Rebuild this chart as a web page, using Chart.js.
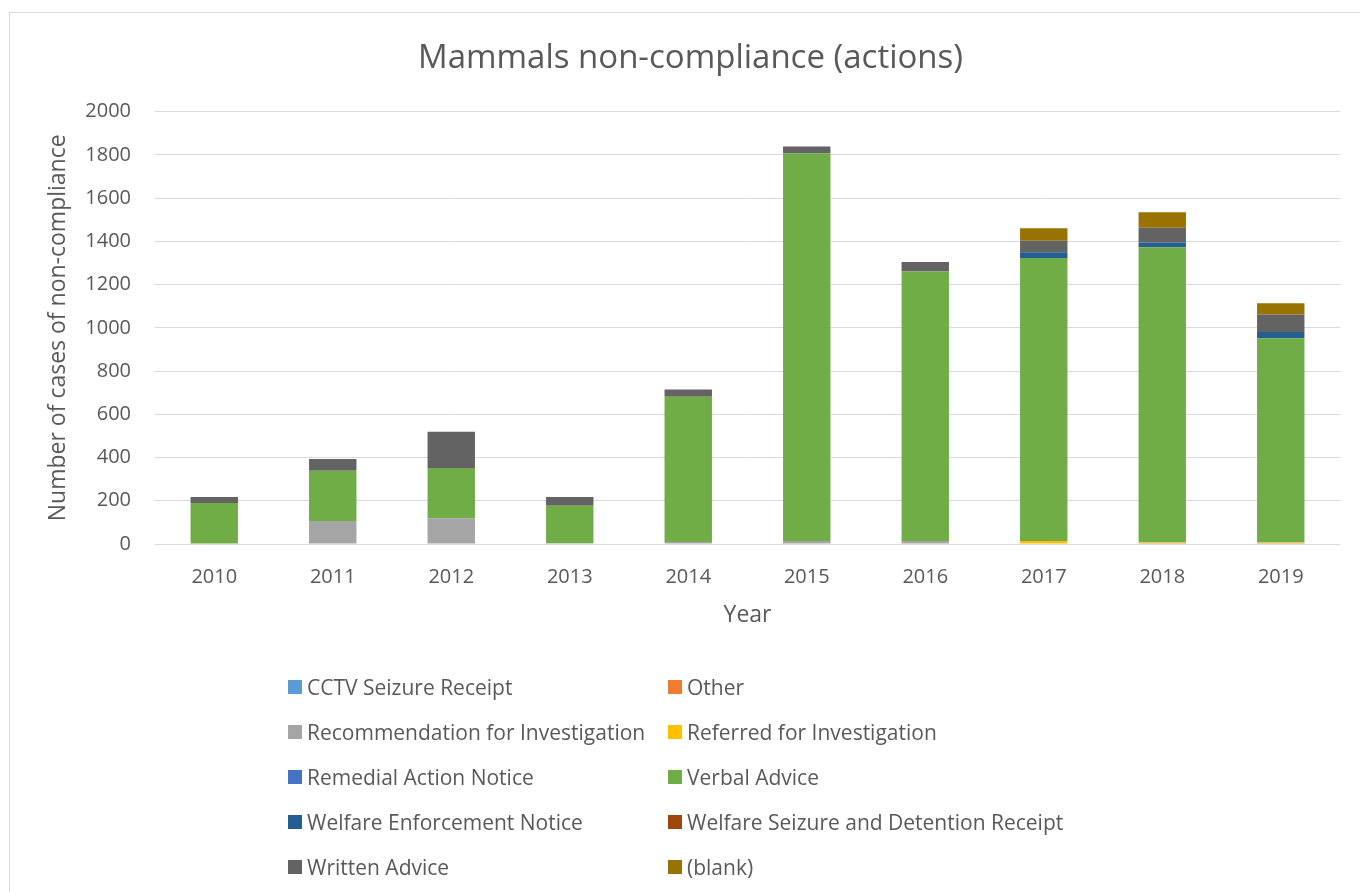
<!DOCTYPE html>
<html lang="en">
<head>
    <meta charset="UTF-8">
    <title>Mammals non-compliance (actions)</title>
    <style>
        body { margin: 0; background: #fff; font-family: 'Open Sans', sans-serif; }
        .frame { position: absolute; left: 9px; top: 12px; width: 1400px; height: 900px; border: 1px solid #d9d9d9; }
        #chart { position: absolute; left: 0; top: 0; }
        .legend { position: absolute; left: 288px; top: 664px; display: grid; grid-template-columns: 380px 420px; grid-auto-rows: 45px; }
        .legend div { display: flex; align-items: center; font-size: 21px; color: #595959; white-space: nowrap; }
        .legend span { display: inline-block; width: 14px; height: 14px; margin-right: 5px; }
    </style>
</head>
<body>
    <div class="frame"></div>
    <canvas id="chart" width="1360" height="892"></canvas>
    <div class="legend" id="legend"></div>

<script src="https://cdn.jsdelivr.net/npm/chart.js"></script>
<script>
    // data
    const years = ['2010', '2011', '2012', '2013', '2014', '2015', '2016', '2017', '2018', '2019'];
    const cctvSeizure     = [0, 0, 0, 0, 0, 0, 0, 0, 0, 0];
    const other           = [0, 0, 0, 0, 0, 0, 0, 0, 0, 0];
    const recommendation  = [2, 106, 119, 3, 9, 14, 14, 0, 5, 5];
    const referred        = [0, 0, 0, 0, 0, 0, 0, 14, 3, 3];
    const remedialNotice  = [0, 0, 0, 0, 0, 0, 0, 0, 0, 0];
    const verbalAdvice    = [188, 233, 232, 174, 672, 1792, 1246, 1309, 1364, 944];
    const welfareNotice   = [0, 0, 0, 0, 0, 0, 0, 27, 22, 29];
    const welfareSeizure  = [0, 0, 0, 0, 0, 0, 0, 0, 0, 0];
    const writtenAdvice   = [27, 54, 168, 40, 34, 33, 44, 53, 69, 80];
    const blank           = [0, 0, 0, 0, 0, 0, 0, 57, 71, 52];

    const series = [
        { label: 'CCTV Seizure Receipt', data: cctvSeizure, color: '#5b9bd5' },
        { label: 'Other', data: other, color: '#ed7d31' },
        { label: 'Recommendation for Investigation', data: recommendation, color: '#a5a5a5' },
        { label: 'Referred for Investigation', data: referred, color: '#ffc000' },
        { label: 'Remedial Action Notice', data: remedialNotice, color: '#4472c4' },
        { label: 'Verbal Advice', data: verbalAdvice, color: '#70ad47' },
        { label: 'Welfare Enforcement Notice', data: welfareNotice, color: '#255e91' },
        { label: 'Welfare Seizure and Detention Receipt', data: welfareSeizure, color: '#9e480e' },
        { label: 'Written Advice', data: writtenAdvice, color: '#636363' },
        { label: '(blank)', data: blank, color: '#997300' }
    ];

    Chart.defaults.font.family = "'Open Sans', sans-serif";
    Chart.defaults.color = '#595959';

    new Chart(document.getElementById('chart').getContext('2d'), {
        type: 'bar',
        data: {
            labels: years,
            datasets: series.map(s => ({
                label: s.label,
                data: s.data,
                backgroundColor: s.color,
                barPercentage: 0.4,
                categoryPercentage: 1.0
            }))
        },
        options: {
            responsive: false,
            animation: false,
            layout: { padding: { left: 41, right: 20, top: 0, bottom: 248 } },
            plugins: {
                legend: { display: false },
                tooltip: { enabled: false },
                title: {
                    display: true,
                    text: 'Mammals non-compliance (actions)',
                    font: { size: 33, weight: 'normal' },
                    padding: { top: 39, bottom: 33 }
                }
            },
            scales: {
                x: {
                    stacked: true,
                    grid: { display: false, drawTicks: false },
                    border: { display: false },
                    ticks: { font: { size: 20 }, padding: 21 },
                    title: { display: true, text: 'Year', font: { size: 23 }, padding: { top: 4, bottom: 15 } },
                    afterFit: (scale) => { scale.height = 100; }
                },
                y: {
                    stacked: true,
                    min: 0,
                    max: 2000,
                    ticks: { stepSize: 200, font: { size: 20 }, padding: 24, callback: (v) => String(v) },
                    grid: { color: '#d9d9d9', drawTicks: false },
                    border: { display: false },
                    title: { display: true, text: 'Number of cases of non-compliance', font: { size: 23 } },
                    afterFit: (scale) => { scale.width = 114; }
                }
            }
        }
    });

    // two-column legend like the original
    const legend = document.getElementById('legend');
    series.forEach(s => {
        const item = document.createElement('div');
        item.innerHTML = '<span style="background:' + s.color + '"></span>' + s.label;
        legend.appendChild(item);
    });
</script>
</body>
</html>
